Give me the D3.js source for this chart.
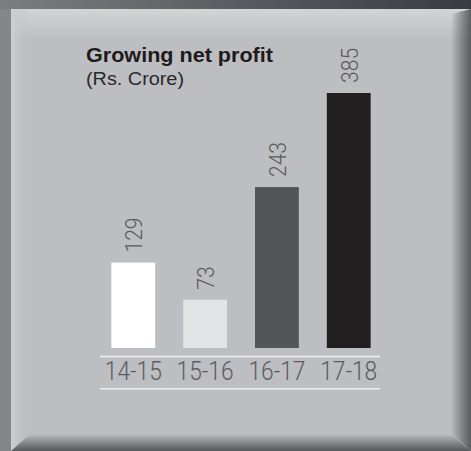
<!DOCTYPE html>
<html><head><meta charset="utf-8">
<script src="https://cdn.jsdelivr.net/npm/d3@7"></script>
<style>html,body{margin:0;padding:0;background:#858689;}svg{display:block;}</style>
</head><body>
<script>
const categories = ["14-15", "15-16", "16-17", "17-18"];
const values = [129, 73, 243, 385];
const barColors = ["#ffffff", "#e2e3e5", "#545557", "#231f20"];
const title = "Growing net profit";
const subtitle = "(Rs. Crore)";

const W = 471, H = 451;
const svg = d3.select("body").append("svg").attr("width", W).attr("height", H);
const defs = svg.append("defs");

function lg(id, x2, y2, stops) {
  const g = defs.append("linearGradient").attr("id", id)
    .attr("x1", 0).attr("y1", 0).attr("x2", x2).attr("y2", y2);
  stops.forEach(s => g.append("stop").attr("offset", s[0]).attr("stop-color", s[1]).attr("stop-opacity", s[2] ?? 1));
}
lg("topBand", 1, 0, [[0, "#7c7d81"], [1, "#3a3b40"]]);
lg("panelTop", 0, 1, [[0, "#d3d4d6"], [1, "#bdbec1"]]);
lg("panelLeft", 1, 0, [[0, "#cfd0d2"], [1, "#bdbec1", 0]]);
lg("rightShadow", 1, 0, [[0, "#3a3a3e", 0], [1, "#4a4b4f", 0.85]]);
lg("bottomShadow", 0, 1, [[0, "#3a3a3e", 0], [1, "#45464a", 0.85]]);

// frame
svg.append("rect").attr("width", W).attr("height", H).attr("fill", "#858689");
svg.append("rect").attr("width", W).attr("height", 9).attr("fill", "url(#topBand)");
svg.append("rect").attr("x", 11).attr("y", 9).attr("width", W - 11).attr("height", H - 9).attr("fill", "#bdbec1");
svg.append("rect").attr("x", 11).attr("y", 9).attr("width", W - 11).attr("height", 30).attr("fill", "url(#panelTop)");
svg.append("rect").attr("x", 11).attr("y", 9).attr("width", 18).attr("height", H - 9).attr("fill", "url(#panelLeft)");
svg.append("path").attr("d", `M${W-20},14 L${W},9 L${W},${H} L${W-20},${H-18} Z`).attr("fill", "url(#rightShadow)");
svg.append("path").attr("d", `M11,${H} L30,${H-17} L${W-20},${H-17} L${W},${H} Z`).attr("fill", "url(#bottomShadow)");

// scales
const x = d3.scaleBand().domain(categories).range([97, 385]).paddingInner(0.39).paddingOuter(0.2);
const y = d3.scaleLinear().domain([0, 385]).range([348, 93]);

const labelFont = "Roboto, 'Liberation Sans', Arial, sans-serif";

const g = svg.append("g");
g.selectAll("rect.bar").data(categories).join("rect")
  .attr("class", "bar")
  .attr("x", d => x(d))
  .attr("width", x.bandwidth())
  .attr("y", (d, i) => y(values[i]))
  .attr("height", (d, i) => y(0) - y(values[i]))
  .attr("fill", (d, i) => barColors[i]);

// value labels (rotated)
g.selectAll("text.val").data(categories).join("text")
  .attr("class", "val")
  .attr("transform", (d, i) => `translate(${x(d) + x.bandwidth() / 2 + 9},${y(values[i]) - 10}) rotate(-90)`)
  .attr("font-family", labelFont)
  .attr("font-weight", 300)
  .attr("font-size", 24)
  .attr("fill", "#5b5b5f")
  .attr("textLength", (d, i) => String(values[i]).length * 11.7)
  .attr("lengthAdjust", "spacingAndGlyphs")
  .text((d, i) => values[i]);

// lines
svg.append("line").attr("x1", 100).attr("x2", 380).attr("y1", 356.5).attr("y2", 356.5)
  .attr("stroke", "#eeeeee").attr("stroke-width", 1.6);
svg.append("line").attr("x1", 100).attr("x2", 380).attr("y1", 388.8).attr("y2", 388.8)
  .attr("stroke", "#eeeeee").attr("stroke-width", 1.6);

// axis
const axis = svg.append("g").attr("transform", "translate(0,356)")
  .call(d3.axisBottom(x).tickSize(0).tickPadding(0));
axis.select(".domain").remove();
axis.selectAll("text")
  .attr("y", 24)
  .attr("dy", 0)
  .attr("font-family", labelFont)
  .attr("font-weight", 300)
  .attr("font-size", 25)
  .attr("fill", "#5b5b5f")
  .attr("textLength", 57)
  .attr("lengthAdjust", "spacingAndGlyphs");

// titles
svg.append("text").attr("x", 86).attr("y", 62)
  .attr("font-family", "Liberation Sans, Arial, sans-serif")
  .attr("font-weight", "bold").attr("font-size", 21).attr("fill", "#1e1b1c")
  .attr("textLength", 187).attr("lengthAdjust", "spacingAndGlyphs")
  .text(title);
svg.append("text").attr("x", 86).attr("y", 85)
  .attr("font-family", "Liberation Sans, Arial, sans-serif")
  .attr("font-size", 18).attr("fill", "#2a2a2c")
  .attr("textLength", 98).attr("lengthAdjust", "spacingAndGlyphs")
  .text(subtitle);
</script>
</body></html>
